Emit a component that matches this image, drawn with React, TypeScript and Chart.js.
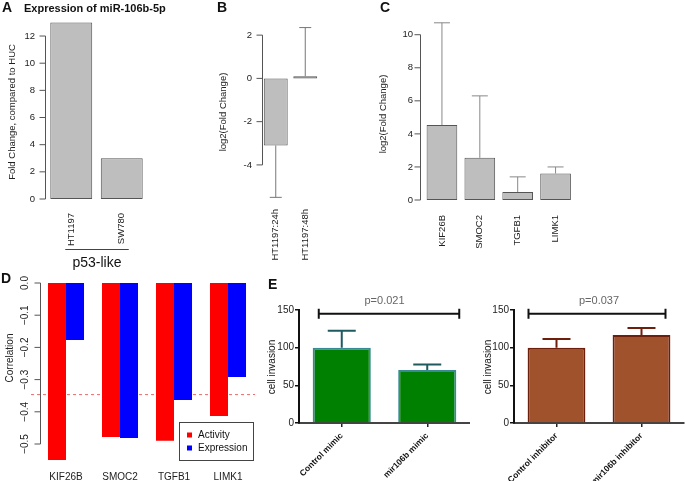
import React, { useEffect, useRef } from "react";
import { Chart, registerables } from "chart.js";

Chart.register(...registerables);
const FONT = '"Liberation Sans", Arial, Helvetica, sans-serif';
Chart.defaults.font.family = FONT;

// ---------- Panel A ----------
const aCategories = ["HT1197", "SW780"];
const aValues = [13, 3];
const aTicks = [0, 2, 4, 6, 8, 10, 12];
const aTitle = "Expression of miR-106b-5p";
const aYTitle = "Fold Change, compared to HUC";
const aGroupLabel = "p53-like";

// ---------- Panel B ----------
const bCategories = ["HT1197:24h", "HT1197:48h"];
const bValues = [-3.1, 0.1];
const bErrors = [2.4, 2.25];
const bTicks = [-4, -2, 0, 2];
const bYTitle = "log2(Fold Change)";

// ---------- Panel C ----------
const cCategories = ["KIF26B", "SMOC2", "TGFB1", "LIMK1"];
const cValues = [4.53, 2.55, 0.48, 1.6];
const cErrors = [6.19, 3.75, 0.92, 0.4];
const cTicks = [0, 2, 4, 6, 8, 10];
const cYTitle = "log2(Fold Change)";

// ---------- Panel D ----------
const dCategories = ["KIF26B", "SMOC2", "TGFB1", "LIMK1"];
const dActivity = [-0.55, -0.478, -0.49, -0.413];
const dExpression = [-0.177, -0.481, -0.363, -0.292];
const dThreshold = -0.345;
const dTicks = [0, -0.1, -0.2, -0.3, -0.4, -0.5];
const dYTitle = "Correlation";
const dSeries = ["Activity", "Expression"];

// ---------- Panel E ----------
const eMimicCategories = ["Control mimic", "mir106b mimic"];
const eMimicValues = [100, 70.5];
const eMimicErrors = [22.5, 7];
const eMimicP = "p=0.021";
const eInhibCategories = ["Control inhibitor", "mir106b inhibitor"];
const eInhibValues = [100, 116.7];
const eInhibErrors = [11.4, 9.3];
const eInhibP = "p=0.037";
const eTicks = [0, 50, 100, 150];
const eYTitle = "cell invasion";
const eBracketValue = 145;

type TextOpts = {
  size: number;
  bold?: boolean;
  color?: string;
  align?: CanvasTextAlign;
  baseline?: CanvasTextBaseline;
  rotate?: number;
};

function drawText(ctx: CanvasRenderingContext2D, s: string, x: number, y: number, o: TextOpts) {
  ctx.save();
  ctx.font = `${o.bold ? "bold " : ""}${o.size}px ${FONT}`;
  ctx.fillStyle = o.color ?? "#222";
  ctx.textAlign = o.align ?? "center";
  ctx.textBaseline = o.baseline ?? "middle";
  ctx.translate(x, y);
  if (o.rotate) ctx.rotate(o.rotate);
  ctx.fillText(s, 0, 0);
  ctx.restore();
}

function drawLine(
  ctx: CanvasRenderingContext2D,
  pts: number[][],
  color: string,
  width: number,
  dash: number[] = []
) {
  ctx.save();
  ctx.strokeStyle = color;
  ctx.lineWidth = width;
  ctx.setLineDash(dash);
  ctx.beginPath();
  ctx.moveTo(pts[0][0], pts[0][1]);
  for (let i = 1; i < pts.length; i++) ctx.lineTo(pts[i][0], pts[i][1]);
  ctx.stroke();
  ctx.restore();
}

const fmtNum = (v: number, digits = 0, minus = "\u2212") => {
  const s = Math.abs(v).toFixed(digits);
  return v < -1e-9 ? minus + s : s;
};

function fixSize(s: any, key: "width" | "height", v: number) {
  s[key] = v;
  s.paddingLeft = 0;
  s.paddingRight = 0;
  s.paddingTop = 0;
  s.paddingBottom = 0;
}

const errorBarPlugin = {
  id: "errorBars",
  afterDatasetsDraw(chart: any) {
    const ctx = chart.ctx;
    const yScale = chart.scales.y;
    chart.data.datasets.forEach((ds: any, di: number) => {
      if (!ds.errors) return;
      const meta = chart.getDatasetMeta(di);
      meta.data.forEach((el: any, i: number) => {
        const v = ds.data[i];
        const e = ds.errors[i];
        const dir = v < 0 ? -1 : 1;
        const y0 = yScale.getPixelForValue(v);
        const y1 = yScale.getPixelForValue(v + dir * e);
        ctx.save();
        ctx.strokeStyle = ds.errorColor;
        ctx.lineWidth = ds.errorWidth;
        ctx.beginPath();
        ctx.moveTo(el.x, y0);
        ctx.lineTo(el.x, y1);
        ctx.moveTo(el.x - ds.errorCap, y1);
        ctx.lineTo(el.x + ds.errorCap, y1);
        ctx.stroke();
        ctx.restore();
      });
    });
  },
};

// R-style axis: line spanning first..last tick, short outward tick marks,
// optional tick labels (horizontal, right aligned) drawn at the scale's positions.
function rAxisPlugin(axisX: number, ticks: number[], labelGap = 0, labelSize = 9.5, color = "#555") {
  return {
    id: "rAxis",
    afterDraw(chart: any) {
      const ctx = chart.ctx;
      const y = chart.scales.y;
      const lo = Math.min(...ticks);
      const hi = Math.max(...ticks);
      const x = axisX + 0.5;
      drawLine(ctx, [[x, y.getPixelForValue(lo)], [x, y.getPixelForValue(hi)]], color, 1);
      ticks.forEach((t) => {
        const py = y.getPixelForValue(t);
        drawLine(ctx, [[x - 6, py], [x, py]], color, 1);
        if (labelGap > 0) {
          drawText(ctx, fmtNum(t, 0, "-"), axisX - labelGap, py, { size: labelSize, align: "right" });
        }
      });
    },
  };
}

type Area = { l: number; t: number; r: number; b: number };

function baseOptions(cw: number, area: Area, scales: any) {
  return {
    responsive: false,
    animation: false,
    events: [],
    layout: { padding: { left: 0, top: area.t, right: cw - area.r, bottom: 0 } },
    plugins: { legend: { display: false }, tooltip: { enabled: false }, title: { display: false } },
    scales,
  };
}

function rXScale(h: number, pad: number, rot: number, size: number) {
  return {
    grid: { display: false, drawTicks: false },
    border: { display: false },
    ticks: { minRotation: rot, maxRotation: rot, padding: pad, autoSkip: false, color: "#222", font: { size } },
    afterFit: (s: any) => fixSize(s, "height", h),
  };
}

function rYScale(w: number, min: number, max: number, ticks: number[], pad: number, size: number, show = true, digits = 0) {
  return {
    min,
    max,
    grid: { display: false, drawTicks: false },
    border: { display: false },
    ticks: {
      display: show,
      autoSkip: false,
      padding: pad,
      color: "#222",
      font: { size },
      callback: (v: any) => fmtNum(Number(v), digits),
    },
    afterBuildTicks: (s: any) => {
      s.ticks = ticks.map((v) => ({ value: v }));
    },
    afterFit: (s: any) => fixSize(s, "width", w),
  };
}

const greyBar = {
  backgroundColor: "#bebebe",
  borderColor: "#555",
  borderWidth: 1,
  borderSkipped: false,
  categoryPercentage: 1,
};

// ---------- Config builders ----------
function configA() {
  const cw = 170, ch = 275;
  const area = { l: 46, t: 20, r: 147, b: 199 };
  return {
    type: "bar",
    data: { labels: aCategories, datasets: [{ ...greyBar, data: aValues, barPercentage: 0.83 }] },
    options: baseOptions(cw, area, {
      x: rXScale(ch - area.b, 14, 90, 9.5),
      y: rYScale(area.l, 0, 13.18, aTicks, 11, 9.5),
    }),
    plugins: [
      rAxisPlugin(45, aTicks),
      {
        id: "decoA",
        afterDraw(chart: any) {
          const ctx = chart.ctx;
          drawText(ctx, "A", 2, 8, { size: 14, bold: true, align: "left", color: "#111" });
          drawText(ctx, aTitle, 24, 9, { size: 11, bold: true, align: "left", color: "#111" });
          drawText(ctx, aYTitle, 12, 112, { size: 9.5, rotate: -Math.PI / 2 });
          const xs = chart.scales.x;
          const x0 = xs.getPixelForValue(0) - 6;
          const x1 = xs.getPixelForValue(1) + 7;
          drawLine(ctx, [[x0, 249.5], [x1, 249.5]], "#444", 1);
          drawText(ctx, aGroupLabel, (x0 + x1) / 2, 263, { size: 14, color: "#111" });
        },
      },
    ],
  };
}

function configB() {
  const cw = 170, ch = 275;
  const area = { l: 91, t: 20, r: 150, b: 206 };
  return {
    type: "bar",
    data: {
      labels: bCategories,
      datasets: [{ ...greyBar, data: bValues, barPercentage: 0.81, errors: bErrors, errorColor: "#777", errorWidth: 1, errorCap: 6 }],
    },
    options: baseOptions(cw, area, {
      x: rXScale(ch - area.b, 3, 90, 9.5),
      y: rYScale(area.l, -5.9, 2.7, bTicks, 9, 9.5, false),
    }),
    plugins: [
      errorBarPlugin,
      rAxisPlugin(92, bTicks, 10, 9.5),
      {
        id: "decoB",
        afterDraw(chart: any) {
          const ctx = chart.ctx;
          drawText(ctx, "B", 47, 8, { size: 14, bold: true, align: "left", color: "#111" });
          drawText(ctx, bYTitle, 53, 112, { size: 9.5, rotate: -Math.PI / 2 });
        },
      },
    ],
  };
}

function configC() {
  const cw = 345, ch = 275;
  const area = { l: 83, t: 20, r: 234.5, b: 200 };
  return {
    type: "bar",
    data: {
      labels: cCategories,
      datasets: [{ ...greyBar, data: cValues, barPercentage: 0.81, errors: cErrors, errorColor: "#888", errorWidth: 1, errorCap: 8 }],
    },
    options: baseOptions(cw, area, {
      x: rXScale(ch - area.b, 15, 90, 9.5),
      y: rYScale(area.l, 0, 10.89, cTicks, 10, 9.5),
    }),
    plugins: [
      errorBarPlugin,
      rAxisPlugin(80, cTicks),
      {
        id: "decoC",
        afterDraw(chart: any) {
          const ctx = chart.ctx;
          drawText(ctx, "C", 40, 8, { size: 14, bold: true, align: "left", color: "#111" });
          drawText(ctx, cYTitle, 43, 114, { size: 9.5, rotate: -Math.PI / 2 });
        },
      },
    ],
  };
}

function configD() {
  const cw = 260, ch = 211;
  const area = { l: 39, t: 13, r: 255, b: 193 };
  const colors = ["#ff0000", "#0000ff"];
  return {
    type: "bar",
    data: {
      labels: dCategories,
      datasets: [
        { label: dSeries[0], data: dActivity, backgroundColor: colors[0], categoryPercentage: 0.667, barPercentage: 1 },
        { label: dSeries[1], data: dExpression, backgroundColor: colors[1], categoryPercentage: 0.667, barPercentage: 1 },
      ],
    },
    options: baseOptions(cw, area, {
      x: rXScale(ch - area.b, 8, 0, 10),
      y: rYScale(area.l, -0.559, 0, dTicks, 0, 10, false, 1),
    }),
    plugins: [
      {
        id: "dashD",
        beforeDatasetsDraw(chart: any) {
          const ctx = chart.ctx;
          const py = chart.scales.y.getPixelForValue(dThreshold) + 0.5;
          drawLine(ctx, [[31, py], [chart.chartArea.right, py]], "#f06a6a", 1, [3, 3]);
        },
      },
      rAxisPlugin(40, dTicks),
      {
        id: "decoD",
        afterDraw(chart: any) {
          const ctx = chart.ctx;
          const y = chart.scales.y;
          dTicks.forEach((t) => {
            drawText(ctx, fmtNum(t, 1), 25, y.getPixelForValue(t), { size: 10, rotate: -Math.PI / 2 });
          });
          drawText(ctx, "D", 1, 9, { size: 14, bold: true, align: "left", color: "#111" });
          drawText(ctx, dYTitle, 10, 88, { size: 10, rotate: -Math.PI / 2 });
          // legend
          const bx = 179, by = 152, bw = 74, bh = 38;
          ctx.save();
          ctx.fillStyle = "#fff";
          ctx.fillRect(bx, by, bw, bh);
          ctx.strokeStyle = "#444";
          ctx.lineWidth = 1;
          ctx.strokeRect(bx + 0.5, by + 0.5, bw, bh);
          ctx.restore();
          chart.data.datasets.forEach((ds: any, i: number) => {
            const cy = by + 13 + i * 13;
            ctx.save();
            ctx.fillStyle = ds.backgroundColor;
            ctx.fillRect(bx + 8, cy - 2.5, 5, 5);
            ctx.restore();
            drawText(ctx, ds.label, bx + 19, cy, { size: 10, align: "left", color: "#111" });
          });
        },
      },
    ],
  };
}

function configE(
  cw: number,
  area: Area,
  labels: string[],
  values: number[],
  errors: number[],
  fill: string,
  border: string,
  errColor: string,
  pText: string,
  bracketOff: [number, number],
  yTitleX: number,
  letter: boolean
) {
  const ch = 206;
  return {
    type: "bar",
    data: {
      labels,
      datasets: [
        {
          data: values,
          backgroundColor: fill,
          borderColor: border,
          borderWidth: 2,
          borderSkipped: "start",
          barPercentage: 0.68,
          categoryPercentage: 1,
          errors,
          errorColor: errColor,
          errorWidth: 2,
          errorCap: 14,
        },
      ],
    },
    options: baseOptions(cw, area, {
      x: {
        grid: { display: true, drawOnChartArea: false, offset: false, drawTicks: true, tickLength: 4, color: "#222", lineWidth: 1.5 },
        border: { display: true, color: "#444", width: 2 },
        ticks: { minRotation: 45, maxRotation: 45, padding: 4, autoSkip: false, color: "#111", font: { size: 8.5, weight: "bold" } },
        afterFit: (s: any) => fixSize(s, "height", ch - area.b),
      },
      y: {
        min: 0,
        max: 150,
        grid: { display: true, drawOnChartArea: false, drawTicks: true, tickLength: 4, color: "#111", lineWidth: 1.5 },
        border: { display: true, color: "#111", width: 2 },
        ticks: { autoSkip: false, padding: 1, color: "#222", font: { size: 10 } },
        afterBuildTicks: (s: any) => {
          s.ticks = eTicks.map((v) => ({ value: v }));
        },
        afterFit: (s: any) => fixSize(s, "width", area.l),
      },
    }),
    plugins: [
      errorBarPlugin,
      {
        id: "decoE",
        afterDraw(chart: any) {
          const ctx = chart.ctx;
          const xs = chart.scales.x;
          const ys = chart.scales.y;
          const c0 = xs.getPixelForValue(0);
          const c1 = xs.getPixelForValue(1);
          const x0 = c0 + bracketOff[0];
          const x1 = c1 + bracketOff[1];
          const by = ys.getPixelForValue(eBracketValue);
          drawLine(ctx, [[x0, by], [x1, by]], "#111", 2);
          drawLine(ctx, [[x0, by - 5], [x0, by + 5]], "#111", 2);
          drawLine(ctx, [[x1, by - 5], [x1, by + 5]], "#111", 2);
          drawText(ctx, pText, (c0 + c1) / 2, by - 13, { size: 11, color: "#666" });
          drawText(ctx, eYTitle, yTitleX, 92, { size: 10, rotate: -Math.PI / 2, color: "#111" });
          if (letter) drawText(ctx, "E", 8, 10, { size: 14, bold: true, align: "left", color: "#111" });
        },
      },
    ],
  };
}

function ChartBox({ left, top, width, height, make }: { left: number; top: number; width: number; height: number; make: () => any }) {
  const ref = useRef<HTMLCanvasElement>(null);
  useEffect(() => {
    const chart = new Chart(ref.current as HTMLCanvasElement, make());
    return () => chart.destroy();
  }, []);
  return (
    <canvas
      ref={ref}
      width={width}
      height={height}
      style={{ position: "absolute", left, top, width, height }}
    />
  );
}

export default function App() {
  return (
    <div style={{ position: "absolute", left: 0, top: 0, width: 685, height: 481, background: "#fff", overflow: "hidden" }}>
      <ChartBox left={0} top={0} width={170} height={275} make={configA} />
      <ChartBox left={170} top={0} width={170} height={275} make={configB} />
      <ChartBox left={340} top={0} width={345} height={275} make={configC} />
      <ChartBox left={0} top={270} width={260} height={211} make={configD} />
      <ChartBox
        left={260}
        top={275}
        width={210}
        height={206}
        make={() =>
          configE(210, { l: 39, t: 35, r: 210, b: 148 }, eMimicCategories, eMimicValues, eMimicErrors, "#008000", "#3a8a96", "#1f5a60", eMimicP, [-23, 32], 12, true)
        }
      />
      <ChartBox
        left={465}
        top={275}
        width={220}
        height={206}
        make={() =>
          configE(220, { l: 49, t: 35, r: 219, b: 148 }, eInhibCategories, eInhibValues, eInhibErrors, "#a0522d", "#6e1f0c", "#6e1f0c", eInhibP, [-28, 24], 23, false)
        }
      />
    </div>
  );
}
